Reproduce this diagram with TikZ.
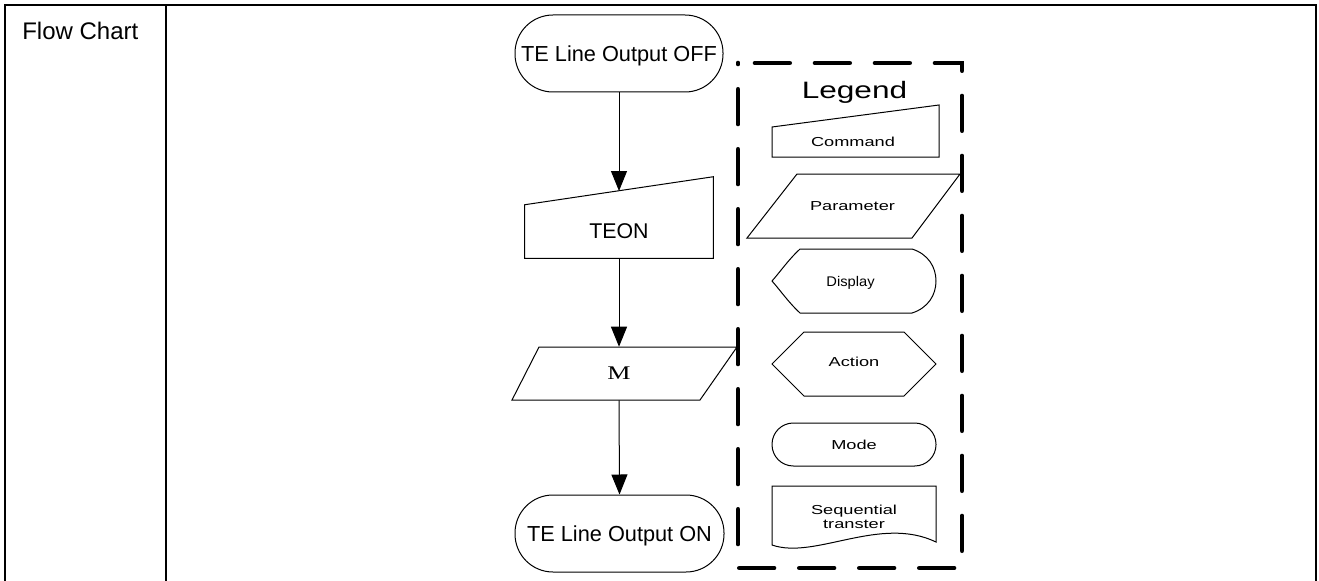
\documentclass[tikz,border=0pt]{standalone}
\usepackage{fontspec}
\setmainfont{Liberation Sans}
\newfontfamily\wideA[FakeStretch=1.4]{Liberation Sans}
\newfontfamily\wideB[FakeStretch=1.33]{Liberation Sans}
\newfontfamily\wideC[FakeStretch=1.05]{Liberation Sans}
\newfontfamily\serifM[FakeStretch=1.35]{Liberation Serif}
\usetikzlibrary{arrows.meta,calc}
\begin{document}
\begin{tikzpicture}[x=0.75pt,y=-0.75pt,
  tbl/.style={line width=1.5pt},
  shp/.style={draw, line width=0.75pt},
  arr/.style={-{Triangle[length=15pt,width=12pt]}, line width=0.75pt},
  term/.style={shp, rounded corners=28.5pt, minimum width=156pt, minimum height=57.75pt,
    inner sep=0pt, text depth=0pt, font=\fontsize{16.3}{19}\selectfont},
  lbl/.style={inner sep=0pt, text depth=0pt},
  legtxt/.style={lbl, font=\wideA\fontsize{9.75}{10.5}\selectfont},
  legbox/.style={draw, line width=3.5pt, dash pattern=on 26pt off 19pt, dash phase=32.25pt, line cap=round}]
\useasboundingbox (0,0) rectangle (1319,581);
\fill[white] (0,0) rectangle (1319,581);

% table frame
\draw[tbl] (5,581) -- (5,5) -- (1316,5) -- (1316,581);
\draw[tbl] (166,5) -- (166,581);
\node[lbl, anchor=base west, font=\fontsize{18}{21}\selectfont] (fc) at (22,39.3) {Flow Chart};

% flow
\node[term] (off) at (619,53.5) {TE Line Output OFF};
\node[lbl, minimum width=141pt, minimum height=39.75pt, font=\fontsize{16}{19}\selectfont] (teon) at (619,231.5) {TEON};
\draw[shp] (teon.south west) -- (teon.south east) -- ($(teon.north east)+(0,-28)$) -- (teon.north west) -- cycle;
\coordinate (teontop) at (619,191);
\node[lbl, minimum height=39.75pt, font=\serifM\fontsize{14.5}{17}\selectfont] (m) at (619,373.5) {M};
\draw[shp] (539,347) -- (737,347) -- (700,400) -- (512,400) -- cycle;
\node[term, minimum width=156.75pt] (on) at (619.5,533.5) {TE Line Output ON};

\draw[arr] (off.south) -- (teontop);
\draw[arr] (teon.south) -- (m.north);
\draw[arr] (m.south) -- (on.north);

% legend
\draw[legbox] (738,63) -- (962,63) -- (962,568) -- (738,568) -- cycle;
\node[lbl, font=\wideB\fontsize{17.8}{20}\selectfont] (legend) at (854.5,90) {Legend};

\draw[shp] (772,157) -- (939,157) -- (939,105) -- (772,127) -- cycle;
\node[legtxt] (lcmd) at (853,142) {Command};

\draw[shp] (797,174) -- (960,174) -- (912,238) -- (747,238) -- cycle;
\node[legtxt] (lpar) at (852.5,206) {Parameter};

\draw[shp] (800,249) -- (912,249) .. controls (928,254) and (936,267) .. (936,281)
  .. controls (936,295) and (928,308) .. (912,313) -- (800,313)
  .. controls (789,303) and (780,290) .. (772,281)
  .. controls (780,272) and (789,259) .. (800,249) -- cycle;
\node[lbl, font=\wideC\fontsize{10.5}{12}\selectfont] (ldisp) at (850.5,281) {Display};

\draw[shp] (772,364) -- (804,332) -- (904,332) -- (936,364) -- (904,396) -- (804,396) -- cycle;
\node[legtxt] (lact) at (854,362) {Action};

\draw[shp, rounded corners=16pt] (772,423) rectangle (936,466);
\node[legtxt] (lmode) at (854,445) {Mode};

\draw[shp] (772,486) -- (936,486) -- (936,542) .. controls (880,515) and (815,560) .. (772,545) -- cycle;
\node[legtxt, align=center] (lseq) at (854,517) {Sequential\\transter};
\end{tikzpicture}
\end{document}
